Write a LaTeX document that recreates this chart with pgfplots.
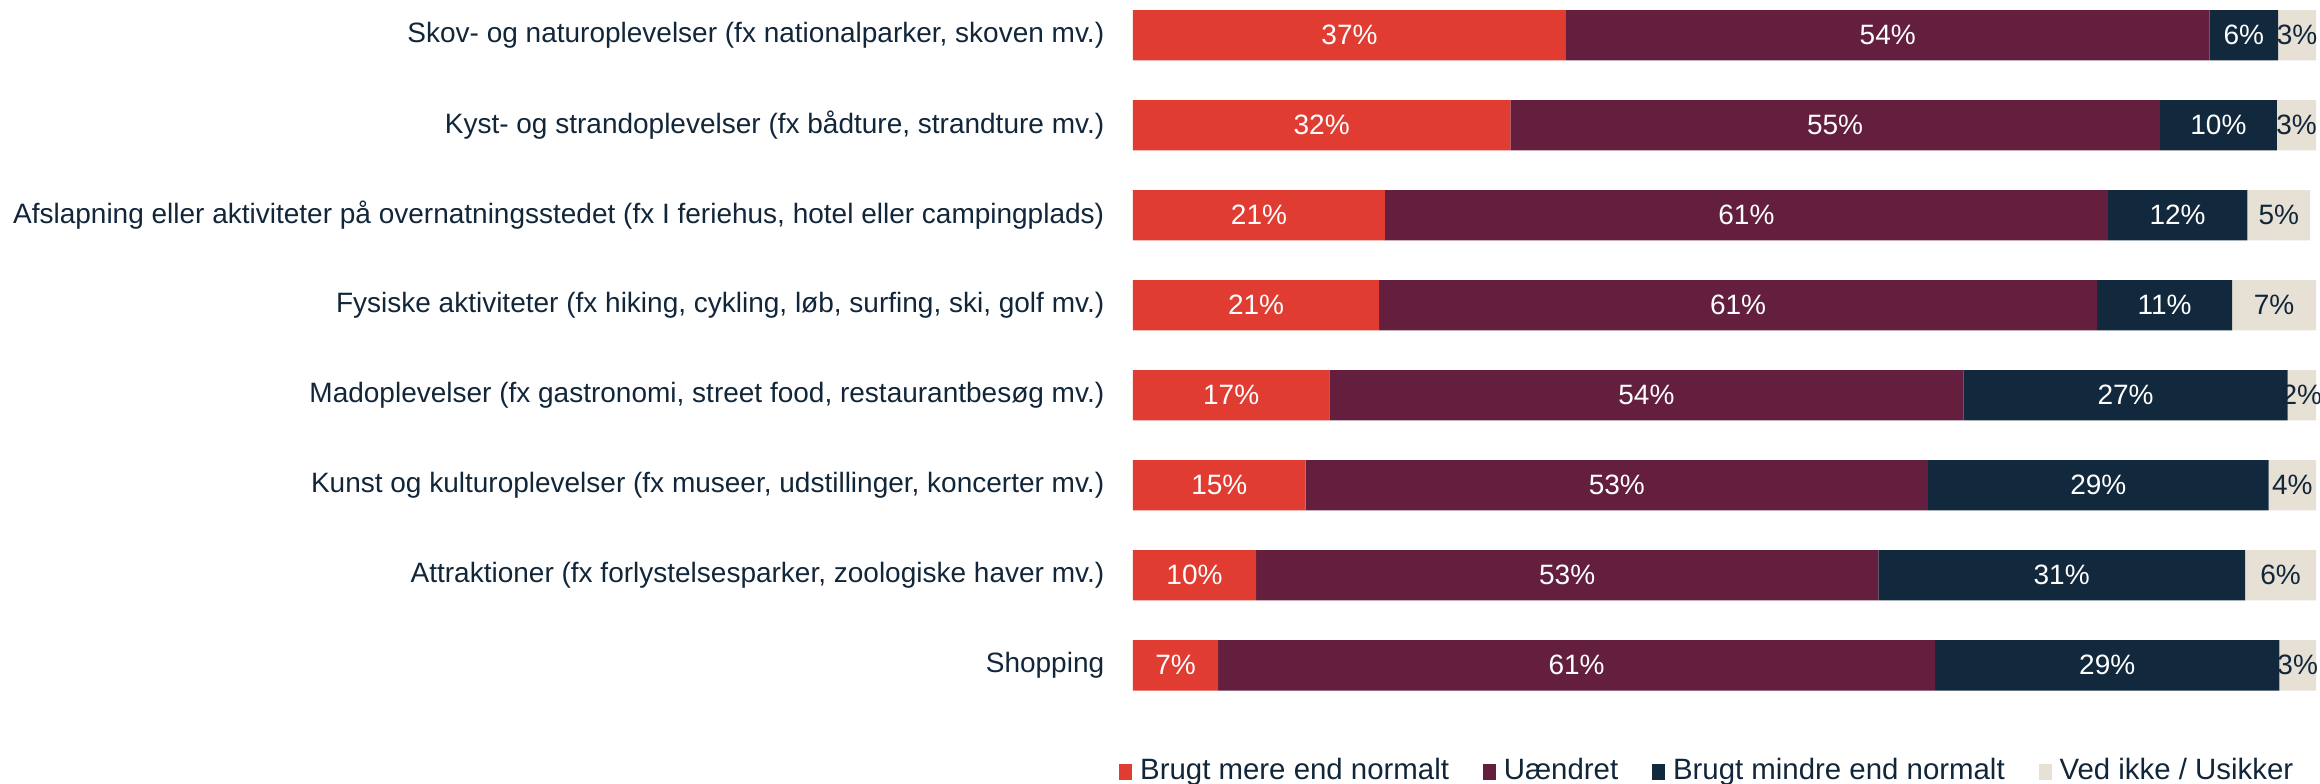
\documentclass[border=0pt]{standalone}
\usepackage{fontspec}
\setmainfont{Liberation Sans}
\usepackage{pgfplots}
\pgfplotsset{compat=1.18}
\definecolor{brred}{HTML}{E03C31}
\definecolor{brpurple}{HTML}{631F3D}
\definecolor{brnavy}{HTML}{12283C}
\definecolor{brbeige}{HTML}{E6E0D5}
\definecolor{txt}{HTML}{12263A}
\newcommand{\lblfont}{\fontsize{7}{8.4}\selectfont}

\begin{document}
\begin{tikzpicture}
\begin{axis}[
  xbar stacked,
  scale only axis,
  width=295.75pt, height=172.62pt,
  bar width=12.6pt,
  xmin=0, xmax=100,
  ymin=-0.392, ymax=7.28,
  y dir=reverse,
  axis line style={draw=none},
  xtick=\empty,
  ytick={0,...,7},
  yticklabels={
    {Skov- og naturoplevelser (fx nationalparker, skoven mv.)},
    {Kyst- og strandoplevelser (fx bådture, strandture mv.)},
    {Afslapning eller aktiviteter på overnatningsstedet (fx I feriehus, hotel eller campingplads)},
    {Fysiske aktiviteter (fx hiking, cykling, løb, surfing, ski, golf mv.)},
    {Madoplevelser (fx gastronomi, street food, restaurantbesøg mv.)},
    {Kunst og kulturoplevelser (fx museer, udstillinger, koncerter mv.)},
    {Attraktioner (fx forlystelsesparker, zoologiske haver mv.)},
    {Shopping}},
  major tick length=0pt,
  tick style={draw=none},
  yticklabel style={text=txt, inner xsep=0pt, font=\lblfont},
  yticklabel shift=7pt,
  point meta=rawx,
  nodes near coords={\pgfmathprintnumber[fixed,precision=0,assume math mode=true]{\pgfplotspointmeta}\%},
  every node near coord/.append style={anchor=center, font=\lblfont},
  legend style={draw=none, fill=none, text=txt, font=\fontsize{7.35}{8.8}\selectfont,
    at={(axis description cs:0.488,-0.118)}, anchor=center,
    legend columns=4,
    /tikz/every odd column/.append style={column sep=0pt},
    /tikz/every even column/.append style={column sep=6.5pt}},
  legend image code/.code={\fill[#1] (0pt,-2.1pt) rectangle (3.2pt,2.1pt);},
]
\addplot[fill=brred, draw=none, every node near coord/.append style={text=white}]
  coordinates {(36.6,0) (31.9,1) (21.3,2) (20.8,3) (16.6,4) (14.6,5) (10.4,6) (7.2,7)};
\addplot[fill=brpurple, draw=none, every node near coord/.append style={text=white}]
  coordinates {(54.4,0) (54.9,1) (61.1,2) (60.7,3) (53.6,4) (52.6,5) (52.6,6) (60.6,7)};
\addplot[fill=brnavy, draw=none, every node near coord/.append style={text=white}]
  coordinates {(5.8,0) (9.9,1) (11.8,2) (11.4,3) (27.4,4) (28.8,5) (31.0,6) (29.1,7)};
\addplot[fill=brbeige, draw=none, every node near coord/.append style={text=txt}]
  coordinates {(3.2,0) (3.3,1) (5.3,2) (7.1,3) (2.4,4) (4.0,5) (6.0,6) (3.1,7)};
\legend{Brugt mere end normalt, Uændret, Brugt mindre end normalt, Ved ikke / Usikker}
\end{axis}
\pgfresetboundingbox
\path[use as bounding box] ([xshift=-283.25pt]current axis.north west)
  rectangle ([xshift=1pt,yshift=-23.13pt]current axis.south east);
\end{tikzpicture}
\end{document}
